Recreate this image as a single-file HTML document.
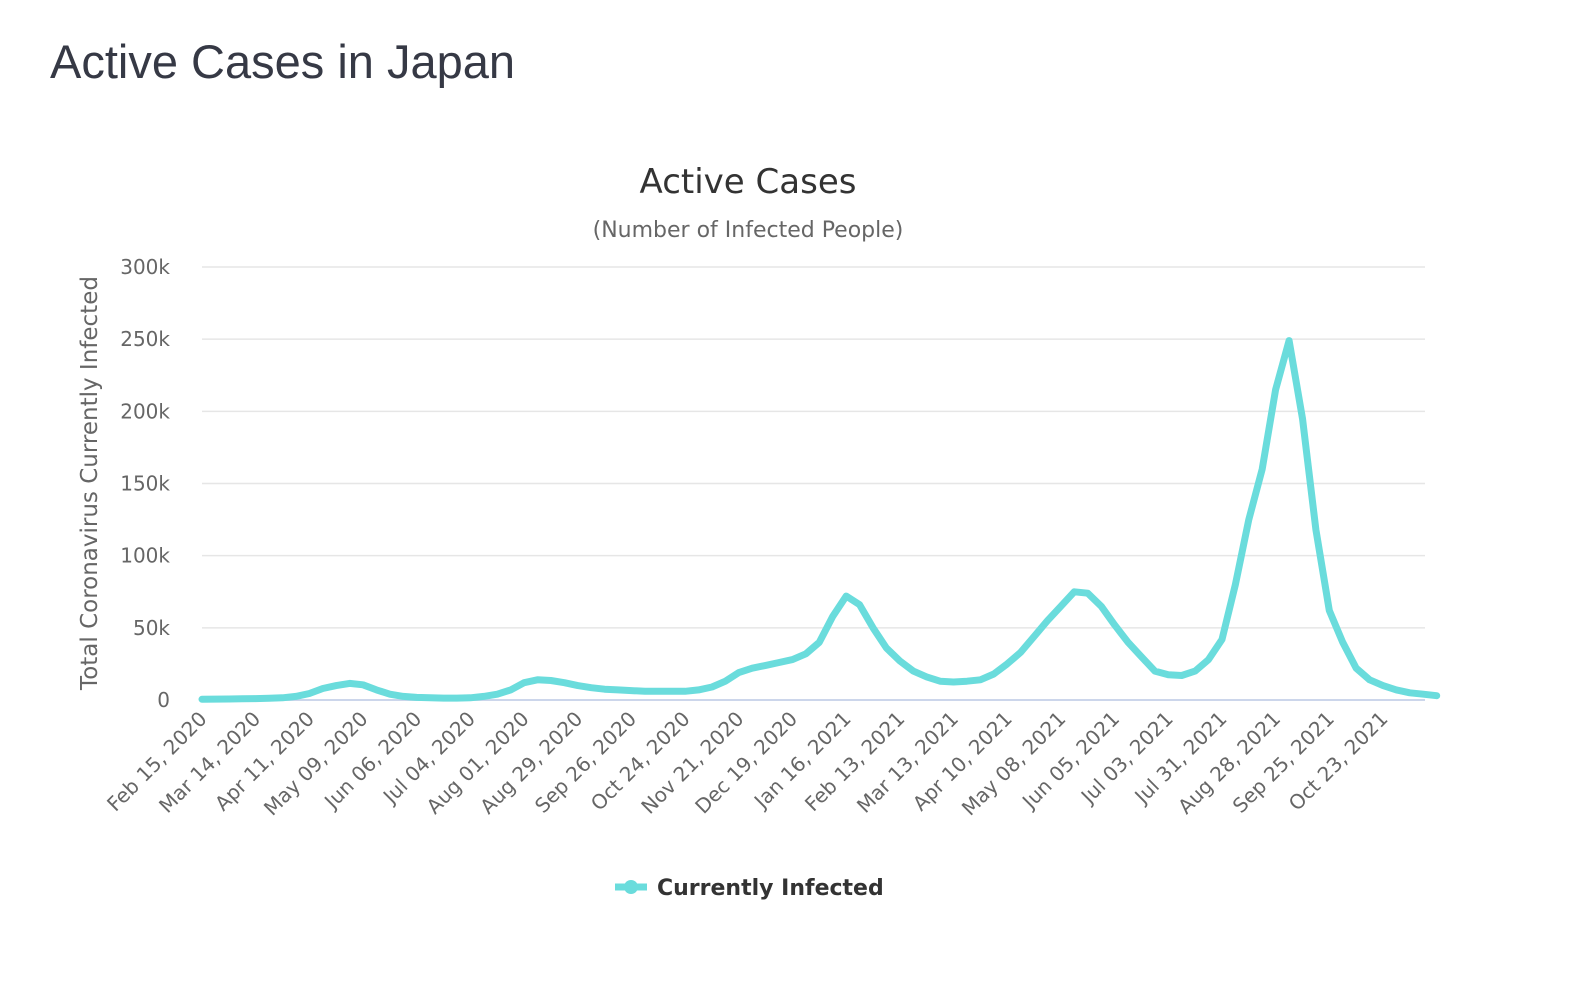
<!DOCTYPE html>
<html><head><meta charset="utf-8"><style>
body{margin:0;background:#fff;width:1580px;height:992px;overflow:hidden}
h1{position:absolute;left:50px;top:34px;margin:0;font:47px "Liberation Sans",sans-serif;color:#363945;font-weight:normal}
</style></head><body>
<h1>Active Cases in Japan</h1>
<svg id="c" width="1580" height="992" style="position:absolute;left:0;top:0"></svg>
<script>
const startDate = Date.UTC(2020,1,15);
const tickLabels = ["Feb 15, 2020","Mar 14, 2020","Apr 11, 2020","May 09, 2020","Jun 06, 2020","Jul 04, 2020","Aug 01, 2020","Aug 29, 2020","Sep 26, 2020","Oct 24, 2020","Nov 21, 2020","Dec 19, 2020","Jan 16, 2021","Feb 13, 2021","Mar 13, 2021","Apr 10, 2021","May 08, 2021","Jun 05, 2021","Jul 03, 2021","Jul 31, 2021","Aug 28, 2021","Sep 25, 2021","Oct 23, 2021"];
const yTicks = [0,50000,100000,150000,200000,250000,300000];
const yTickLabels = ["0","50k","100k","150k","200k","250k","300k"];
// weekly values (thousands) starting Feb 15, 2020
const activeK = [0.5,0.6,0.7,0.8,1.0,1.2,1.5,2.5,4.5,8,10,11.5,10.5,7,4,2.5,1.8,1.5,1.3,1.3,1.5,2.5,4,7,12,14,13.5,12,10,8.5,7.5,7,6.5,6,6,6,6,7,9,13,19,22,24,26,28,32,40,58,72,66,50,36,27,20,16,13,12.5,13,14,18,25,33,44,55,65,75,74,65,52,40,30,20,17.5,17,20,28,42,80,125,160,215,249,195,118,62,40,22,14,10,7,5,4,3];
const NS="http://www.w3.org/2000/svg";
const svg=document.getElementById('c');
const X0=202,X1=1425,Y0=700,Y1=267;
const pxPerDay=(1383-202)/616;
const xDay=d=>X0+d*pxPerDay;
const yVal=v=>Y0-(v/300000)*(Y0-Y1);
function el(t,a,txt){const e=document.createElementNS(NS,t);for(const k in a)e.setAttribute(k,a[k]);if(txt!=null)e.textContent=txt;svg.appendChild(e);return e;}
const font='"DejaVu Sans","Liberation Sans",sans-serif';
let t=el('text',{x:748,y:193,'text-anchor':'middle','font-family':font,'font-size':34,fill:'#333'},'Active Cases');


t=el('text',{x:748,y:237,'text-anchor':'middle','font-family':font,'font-size':22,fill:'#666'},'(Number of Infected People)');


yTicks.forEach((v,i)=>{
  const y=yVal(v);
  const g=el('line',{x1:X0,x2:X1,y1:y,y2:y,stroke:i==0?'#ccd6eb':'#e6e6e6','stroke-width':i==0?2:1.5});
  
  
  const l=el('text',{x:170,y:y+7,'text-anchor':'end','font-family':font,'font-size':20,fill:'#666'},yTickLabels[i]);
  
  
});
t=el('text',{x:0,y:0,transform:'translate(97,483) rotate(-90)','text-anchor':'middle','font-family':font,'font-size':23,fill:'#666'},'Total Coronavirus Currently Infected');


tickLabels.forEach((s,i)=>{
  const x=xDay(i*28);
  const l=el('text',{x:0,y:0,transform:`translate(${x+6},${Y0+20}) rotate(-45)`,'text-anchor':'end','font-family':font,'font-size':20,fill:'#666'},s);
  
  
});
const pts=activeK.map((v,i)=>xDay(i*7).toFixed(1)+','+yVal(v*1000).toFixed(1)).join(' ');
const line=el('polyline',{points:pts,fill:'none',stroke:'#6adcdc','stroke-width':7,'stroke-linejoin':'round','stroke-linecap':'round'});


const lg=el('line',{x1:615,x2:647,y1:887,y2:887,stroke:'#6adcdc','stroke-width':7});


const lc=el('circle',{cx:631,cy:887,r:7,fill:'#6adcdc'});


t=el('text',{x:657,y:895,'font-family':font,'font-size':22,'font-weight':'bold',fill:'#333'},'Currently Infected');


</script>
</body></html>
